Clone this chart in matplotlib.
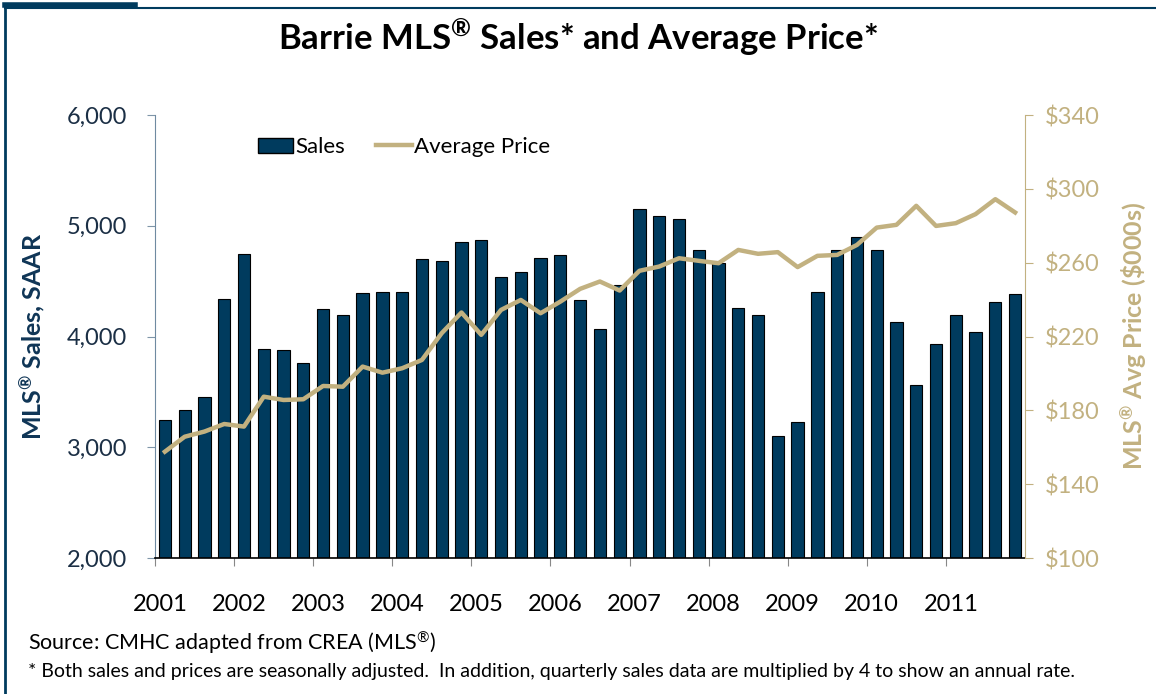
import matplotlib.pyplot as plt
from matplotlib.lines import Line2D
import numpy as np

plt.rcParams['font.family'] = ['Lato', 'DejaVu Sans']
plt.rcParams['mathtext.fontset'] = 'custom'
plt.rcParams['mathtext.rm'] = 'Lato'
plt.rcParams['mathtext.bf'] = 'Lato:bold'
plt.rcParams['mathtext.default'] = 'regular'

NAVY = '#003b5e'
TAN = '#c2b180'

# quarterly data, 2001 Q1 .. 2011 Q4
years = [str(y) for y in range(2001, 2012)]
sales = [3250, 3340, 3450, 4340, 4745, 3885, 3880, 3760,
         4250, 4190, 4390, 4405, 4405, 4700, 4680, 4855,
         4870, 4540, 4585, 4705, 4735, 4330, 4070, 4465,
         5155, 5085, 5065, 4780, 4665, 4255, 4195, 3100,
         3230, 4400, 4780, 4900, 4780, 4135, 3565, 3935,
         4190, 4045, 4310, 4385]
avg_price = [157.6, 165.7, 168.5, 172.6, 171.2, 187.4, 185.6, 186.0,
             193.2, 192.8, 203.7, 200.4, 202.8, 207.3, 221.8, 233.0,
             220.9, 234.4, 239.8, 232.6, 238.9, 245.8, 249.8, 244.9,
             255.6, 257.9, 262.4, 261.0, 259.7, 266.9, 264.8, 265.7,
             257.6, 263.7, 264.2, 269.6, 279.0, 280.5, 290.8, 279.9,
             281.4, 286.3, 294.4, 287.2]

x = np.arange(len(sales))

fig = plt.figure(figsize=(11.56, 6.94), dpi=100)
ax = fig.add_axes([155 / 1156, 1 - 558 / 694, 870 / 1156, 443 / 694])
ax2 = ax.twinx()

# bars
ax.bar(x, sales, width=0.62, color=NAVY, edgecolor='black', linewidth=0.8, zorder=2)
ax.set_ylim(2000, 6000)
ax.set_xlim(-0.5, len(sales) - 0.5)
ax.set_yticks(range(2000, 6001, 1000))
ax.set_yticklabels([f'{v:,}' for v in range(2000, 6001, 1000)], fontsize=17, color='#1b2f45')
ax.set_ylabel('MLS$^{®}$ Sales, SAAR', fontsize=18, fontweight='bold', color='#0f3556', labelpad=14)

# price line
ax2.plot(x, avg_price, color=TAN, linewidth=3.2, zorder=3)
ax2.set_ylim(100, 340)
ax2.set_yticks(range(100, 341, 40))
ax2.set_yticklabels([f'${v}' for v in range(100, 341, 40)], fontsize=17, color=TAN)
ax2.set_ylabel('MLS$^{®}$ Avg Price (\\$000s)', fontsize=18, fontweight='bold', color=TAN, labelpad=14)

# x axis: year ticks at start of each year, labels near first quarter
ax.set_xticks(np.arange(0, len(sales), 4) - 0.5)
ax.set_xticklabels([])
ax.set_xticks(np.arange(0, len(sales), 4) - 0.25, minor=True)
ax.set_xticklabels(years, minor=True, fontsize=17, color='black')
ax.tick_params(axis='x', which='minor', length=0, pad=26)
ax.tick_params(axis='x', which='major', length=6, color='#888888', direction='out')
ax.tick_params(axis='y', length=6, color='#7f95a8', direction='out', pad=14)
ax2.tick_params(axis='y', length=6, color=TAN, direction='out', pad=8)

for a in (ax, ax2):
    a.spines['top'].set_visible(False)
ax.spines['right'].set_visible(False)
ax2.spines['left'].set_visible(False)
ax2.spines['bottom'].set_visible(False)
ax.spines['left'].set_color('#6f8aa1')
ax2.spines['right'].set_color(TAN)
ax.spines['bottom'].set_color('black')
ax.spines['bottom'].set_linewidth(1.2)

# legend
handles = [plt.Rectangle((0, 0), 1, 1, facecolor=NAVY, edgecolor='black'),
           Line2D([0], [0], color=TAN, linewidth=3.2)]
ax.legend(handles, ['Sales', 'Average Price'], loc='upper left', bbox_to_anchor=(0.095, 0.995),
          ncol=2, frameon=False, fontsize=16, handlelength=1.6, handletextpad=0.1,
          columnspacing=1.4)

fig.text(0.5, 1 - 38 / 694, 'Barrie MLS$^{®}$ Sales* and Average Price*', ha='center', va='center',
         fontsize=25, fontweight='bold', color='black')
fig.text(28 / 1156, 1 - 643 / 694, 'Source: CMHC adapted from CREA (MLS$^{®}$)', ha='left', va='center',
         fontsize=15.5, color='black')
fig.text(28 / 1156, 1 - 672 / 694,
         '* Both sales and prices are seasonally adjusted.  In addition, quarterly sales data are '
         'multiplied by 4 to show an annual rate.', ha='left', va='center', fontsize=14, color='black')

# frame lines (top and left border)
fig.add_artist(Line2D([0.004, 0.004], [0, 0.99], transform=fig.transFigure, color=NAVY, linewidth=2))
fig.add_artist(Line2D([0.004, 1], [0.989, 0.989], transform=fig.transFigure, color=NAVY, linewidth=1.5))
fig.add_artist(Line2D([0.004, 0.117], [0.993, 0.993], transform=fig.transFigure, color=NAVY, linewidth=4))

fig.savefig('out.png', dpi=100)
